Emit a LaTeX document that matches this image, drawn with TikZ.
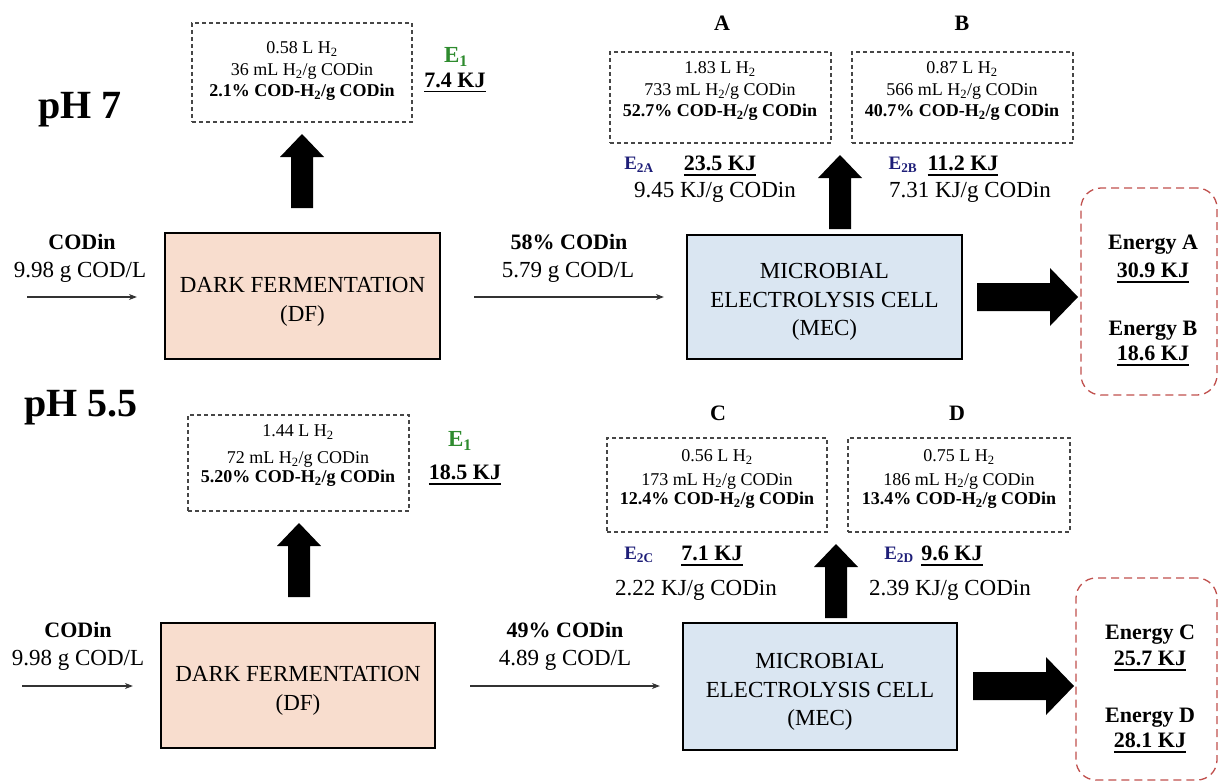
\documentclass[tikz,border=0pt]{standalone}
\usepackage{fontspec}
\setmainfont{Liberation Serif}
\usetikzlibrary{arrows.meta}
\definecolor{dfpeach}{RGB}{248,221,206}
\definecolor{mecblue}{RGB}{218,230,242}
\definecolor{egreen}{RGB}{46,139,46}
\definecolor{enavy}{RGB}{30,30,120}
\definecolor{ered}{RGB}{192,80,77}
\definecolor{dashgray}{RGB}{70,70,70}
\newcommand{\ulx}[1]{\setbox0=\hbox{#1}\rlap{\rule[-5pt]{\wd0}{1.6pt}}\box0}
\tikzset{
  procbox/.style={draw=black, line width=2.2pt, inner sep=0pt},
  proctxt/.style={align=center, inner sep=0pt, font=\fontsize{23}{29.5}\selectfont},
  dashbox/.style={draw=dashgray, line width=1.1pt, dash pattern=on 4pt off 3pt, inner sep=0pt},
  boxtxt/.style={align=center, inner sep=0pt, font=\fontsize{18}{21.5}\selectfont},
  boxtxtb/.style={align=center, inner sep=0pt, font=\fontsize{18}{19.5}\selectfont},
  lbl/.style={inner sep=0pt, text height=15.6pt, text depth=0pt, font=\fontsize{23}{27}\selectfont},
  blbl/.style={inner sep=0pt, text height=15pt, text depth=0pt, font=\fontsize{22}{26}\selectfont\bfseries},
  phlbl/.style={inner sep=0pt, text height=27pt, text depth=0pt, font=\fontsize{40}{48}\selectfont\bfseries},
  elbl/.style={inner sep=0pt, text height=13pt, text depth=0pt, font=\fontsize{19}{23}\selectfont\bfseries},
  e1lbl/.style={inner sep=0pt, text height=15pt, text depth=0pt, text=egreen, font=\fontsize{23}{27}\selectfont\bfseries},
  energybox/.style={draw=ered, line width=1.3pt, dash pattern=on 8pt off 5pt, rounded corners=20pt, inner sep=0pt},
  thinarrow/.style={-{Stealth[length=8pt,width=6pt]}, line width=1.2pt, draw=black!80},
  uparr/.pic={\fill[black] (-11,0) -- (-11,-51) -- (-22,-51) -- (0,-74) -- (22,-51) -- (11,-51) -- (11,0) -- cycle;},
  rightarr/.pic={\fill[black] (0,-14) -- (73,-14) -- (73,-29) -- (101,0) -- (73,29) -- (73,14) -- (0,14) -- cycle;}
}
\begin{document}
\begin{tikzpicture}[x=1pt,y=-1pt]
\useasboundingbox (0,0) rectangle (1218,784);

% ================= pH 7 =================
\node[phlbl] (ph7) at (80,105) {pH 7};

\node[procbox, fill=dfpeach, minimum width=275, minimum height=126] (dfT) at (302.5,296) {};
\node[proctxt] (dfTtxt) at (302.5,302) {DARK FERMENTATION\\(DF)};
\node[procbox, fill=mecblue, minimum width=275, minimum height=124] (mecT) at (824.5,297) {};
\node[proctxt, font=\fontsize{23}{28.5}\selectfont] (mecTtxt) at (824.5,302) {MICROBIAL\\ELECTROLYSIS CELL\\(MEC)};

\node[dashbox, minimum width=220, minimum height=99] (e1boxT) at (302,72.5) {};
\node[boxtxt] (e1txtT) at (302,71.5) {0.58 L H\textsubscript{2}\\36 mL H\textsubscript{2}/g CODin\\\textbf{2.1\% COD-H\textsubscript{2}/g CODin}};
\node[e1lbl] (e1T) at (456,55) {E\textsubscript{1}};
\node[blbl] (v1T) at (455,80) {\ulx{7.4 KJ}};

\node[blbl] (labA) at (722,23) {A};
\node[blbl] (labB) at (962,23) {B};
\node[dashbox, minimum width=221, minimum height=91] (boxA) at (720.5,97.5) {};
\node[boxtxt] (txtA) at (720,91.5) {1.83 L H\textsubscript{2}\\733 mL H\textsubscript{2}/g CODin\\\textbf{52.7\% COD-H\textsubscript{2}/g CODin}};
\node[dashbox, minimum width=221, minimum height=91] (boxB) at (962.5,97.5) {};
\node[boxtxt] (txtB) at (962,91.5) {0.87 L H\textsubscript{2}\\566 mL H\textsubscript{2}/g CODin\\\textbf{40.7\% COD-H\textsubscript{2}/g CODin}};

\node[elbl, text=enavy] (e2A) at (639,163) {E\textsubscript{2A}};
\node[blbl] (vA) at (720,163) {\ulx{23.5 KJ}};
\node[lbl] (sA) at (715,190) {9.45 KJ/g CODin};
\node[elbl, text=enavy] (e2B) at (903,163) {E\textsubscript{2B}};
\node[blbl] (vB) at (963,163) {\ulx{11.2 KJ}};
\node[lbl] (sB) at (970,190) {7.31 KJ/g CODin};

\node[blbl] (codT) at (82,242) {CODin};
\node[lbl] (codvT) at (80,270) {9.98 g COD/L};
\node[blbl] (pctT) at (569,242) {58\% CODin};
\node[lbl] (pctvT) at (568,270) {5.79 g COD/L};

\coordinate (inT) at (27,297);
\draw[thinarrow, shorten >=27pt] (inT) -- (inT -| dfT.west);
\draw[thinarrow, shorten <=33pt, shorten >=22pt] (dfT.east |- inT) -- (mecT.west |- inT);

\pic (upDFT) at (302,208) {uparr};
\pic (upMECT) at (840,229) {uparr};
\pic (rMECT) at (977,297) {rightarr};

\node[energybox, minimum width=136, minimum height=207] (enT) at (1149,291.5) {};
\node[blbl] (enA) at (1153,242) {Energy A};
\node[blbl] (enAv) at (1153,270) {\ulx{30.9 KJ}};
\node[blbl] (enB) at (1153,328) {Energy B};
\node[blbl] (enBv) at (1153,353) {\ulx{18.6 KJ}};

% ================= pH 5.5 =================
\node[phlbl] (ph55) at (81,403) {pH 5.5};

\node[procbox, fill=dfpeach, minimum width=274, minimum height=125] (dfB) at (298,685.5) {};
\node[proctxt] (dfBtxt) at (298,691) {DARK FERMENTATION\\(DF)};
\node[procbox, fill=mecblue, minimum width=274, minimum height=127] (mecB) at (820,686.5) {};
\node[proctxt, font=\fontsize{23}{28.5}\selectfont] (mecBtxt) at (820,692) {MICROBIAL\\ELECTROLYSIS CELL\\(MEC)};

\node[dashbox, minimum width=221, minimum height=96] (e1boxB) at (298.5,463) {};
\node[boxtxtb] (e1txtB) at (298,456) {1.44 L H\textsubscript{2}\\[7pt]72 mL H\textsubscript{2}/g CODin\\\textbf{5.20\% COD-H\textsubscript{2}/g CODin}};
\node[e1lbl] (e1B) at (460,439) {E\textsubscript{1}};
\node[blbl] (v1B) at (465,472) {\ulx{18.5 KJ}};

\node[blbl] (labC) at (718,413) {C};
\node[blbl] (labD) at (957,413) {D};
\node[dashbox, minimum width=220, minimum height=94] (boxC) at (717,485) {};
\node[boxtxtb] (txtC) at (717,479) {0.56 L H\textsubscript{2}\\[4pt]173 mL H\textsubscript{2}/g CODin\\\textbf{12.4\% COD-H\textsubscript{2}/g CODin}};
\node[dashbox, minimum width=222, minimum height=94] (boxD) at (959,485) {};
\node[boxtxtb] (txtD) at (959,479) {0.75 L H\textsubscript{2}\\[4pt]186 mL H\textsubscript{2}/g CODin\\\textbf{13.4\% COD-H\textsubscript{2}/g CODin}};

\node[elbl, text=enavy] (e2C) at (639,553) {E\textsubscript{2C}};
\node[blbl] (vC) at (712,553) {\ulx{7.1 KJ}};
\node[lbl] (sC) at (696,588) {2.22 KJ/g CODin};
\node[elbl, text=enavy] (e2D) at (899,553) {E\textsubscript{2D}};
\node[blbl] (vD) at (952,553) {\ulx{9.6 KJ}};
\node[lbl] (sD) at (950,588) {2.39 KJ/g CODin};

\node[blbl] (codB) at (78,630) {CODin};
\node[lbl] (codvB) at (78,658) {9.98 g COD/L};
\node[blbl] (pctB) at (565,630) {49\% CODin};
\node[lbl] (pctvB) at (565,658) {4.89 g COD/L};

\coordinate (inB) at (22,686);
\draw[thinarrow, shorten >=27pt] (inB) -- (inB -| dfB.west);
\draw[thinarrow, shorten <=34pt, shorten >=22pt] (dfB.east |- inB) -- (mecB.west |- inB);

\pic (upDFB) at (299,597) {uparr};
\pic (upMECB) at (836,618) {uparr};
\pic (rMECB) at (973,686) {rightarr};

\node[energybox, minimum width=141, minimum height=202] (enBot) at (1146.5,679) {};
\node[blbl] (enC) at (1150,632) {Energy C};
\node[blbl] (enCv) at (1150,658) {\ulx{25.7 KJ}};
\node[blbl] (enD) at (1150,715) {Energy D};
\node[blbl] (enDv) at (1150,740) {\ulx{28.1 KJ}};
\end{tikzpicture}
\end{document}
